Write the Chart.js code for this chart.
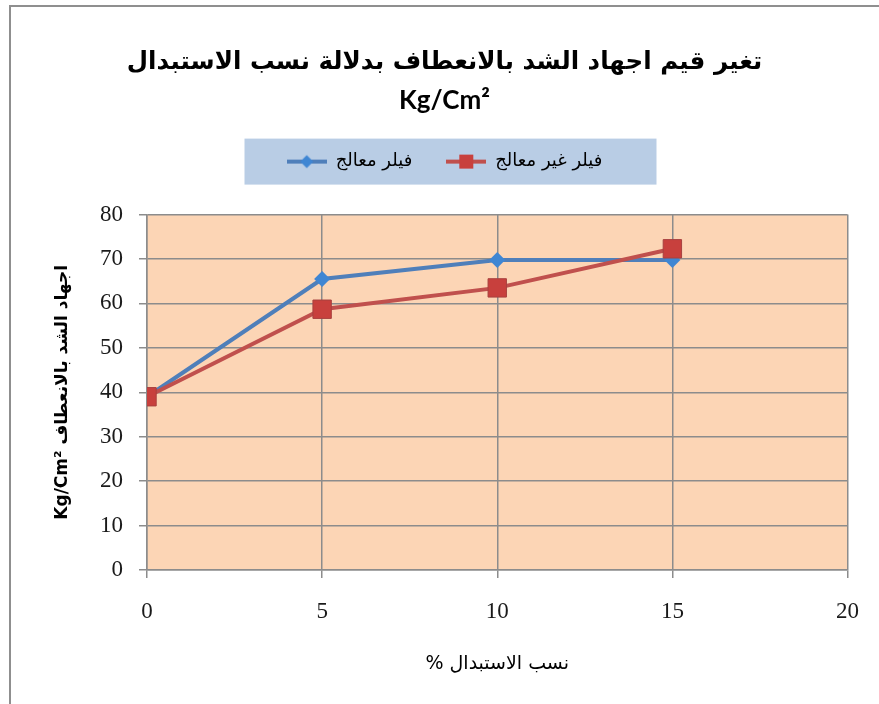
<!DOCTYPE html>
<html lang="ar">
<head>
<meta charset="utf-8">
<title>تغير قيم اجهاد الشد بالانعطاف</title>
<script src="https://cdn.jsdelivr.net/npm/chart.js@4.4.1/dist/chart.umd.min.js"></script>
<style>
  html, body { margin: 0; padding: 0; background: #ffffff; }
  #wrap { position: relative; width: 879px; height: 704px; }
  #cadre {
    position: absolute; left: 9px; top: 5px; right: -4px; bottom: -4px;
    border-left: 2px solid #8f8f8f; border-top: 2px solid #8f8f8f;
    pointer-events: none;
  }
</style>
</head>
<body>
<div id="wrap">
  <canvas id="graphe"></canvas>
  <div id="cadre"></div>
</div>
<script>
// ====================== DONNEES ======================
const titre = "تغير قيم اجهاد الشد بالانعطاف بدلالة نسب الاستبدال";
const sousTitre = "Kg/Cm²";
const titreX = "% نسب الاستبدال";
const titreY = "Kg/Cm² اجهاد الشد بالانعطاف";

const nomsSeries = ["فيلر معالج", "فيلر غير معالج"];
const tauxRemplacement = [0, 5, 10, 15];
const filerTraite = [39, 65.5, 69.8, 69.8];
const filerNonTraite = [39, 58.7, 63.5, 72.3];

const ticksX = [0, 5, 10, 15, 20];
const ticksY = [0, 10, 20, 30, 40, 50, 60, 70, 80];

const couleurs = {
  bleuLigne: "#4f7fba",
  bleuPoint: "#3f86d3",
  rougeLigne: "#c0504d",
  rougePoint: "#c8403d",
  fondTrace: "#fcd5b5",
  fondLegende: "#b9cde5",
  grille: "#8c8c8c",
};

// ====================== MARQUEURS LEGENDE ======================
function marqueurLegende(couleurLigne, couleurPoint, forme) {
  const c = document.createElement("canvas");
  c.width = 40;
  c.height = 16;
  const ctx = c.getContext("2d");
  ctx.strokeStyle = couleurLigne;
  ctx.lineWidth = 4;
  ctx.beginPath();
  ctx.moveTo(0, 8);
  ctx.lineTo(40, 8);
  ctx.stroke();
  ctx.fillStyle = couleurPoint;
  ctx.beginPath();
  if (forme === "losange") {
    ctx.moveTo(20, 1.5);
    ctx.lineTo(26.5, 8);
    ctx.lineTo(20, 14.5);
    ctx.lineTo(13.5, 8);
    ctx.closePath();
  } else {
    ctx.rect(13, 1, 14, 14);
  }
  ctx.fill();
  return c;
}

const marqueurs = [
  marqueurLegende(couleurs.bleuLigne, couleurs.bleuPoint, "losange"),
  marqueurLegende(couleurs.rougeLigne, couleurs.rougePoint, "carre"),
];

// ====================== FONDS + ESPACE SOUS LA LEGENDE ======================
const fondsPlugin = {
  id: "fonds",
  beforeDraw(chart) {
    const { ctx, chartArea, legend } = chart;
    ctx.save();
    ctx.fillStyle = couleurs.fondTrace;
    ctx.fillRect(chartArea.left, chartArea.top, chartArea.right - chartArea.left, chartArea.bottom - chartArea.top);

    if (legend && legend.legendHitBoxes && legend.legendHitBoxes.length) {
      const boxes = legend.legendHitBoxes;
      const gauche = Math.min(...boxes.map((b) => b.left));
      const droite = Math.max(...boxes.map((b) => b.left + b.width));
      const centre = (gauche + droite) / 2;
      const milieu = boxes[0].top + boxes[0].height / 2;
      ctx.fillStyle = couleurs.fondLegende;
      ctx.fillRect(centre - 200, milieu - 23, 412, 46);
    }
    ctx.restore();
  },
};

const espacePlugin = {
  id: "espace",
  beforeInit(chart) {
    Chart.layouts.addBox(chart, {
      position: "top",
      weight: 100,
      fullSize: true,
      options: {},
      top: 0, left: 0, right: 0, bottom: 0, width: 0, height: 0,
      update(maxWidth) {
        this.width = maxWidth;
        this.height = 34;
      },
      isHorizontal() { return true; },
      getPadding() { return { left: 0, right: 0, top: 0, bottom: 0 }; },
      draw() {},
    });
  },
};

// ====================== GRAPHIQUE ======================
new Chart(document.getElementById("graphe"), {
  type: "line",
  data: {
    datasets: [
      {
        label: nomsSeries[0],
        data: tauxRemplacement.map((x, i) => ({ x, y: filerTraite[i] })),
        borderColor: couleurs.bleuLigne,
        backgroundColor: couleurs.bleuPoint,
        borderWidth: 4,
        pointStyle: "rectRot",
        pointRadius: 8,
        pointBorderWidth: 0,
        pointBackgroundColor: couleurs.bleuPoint,
        tension: 0,
        order: 1,
      },
      {
        label: nomsSeries[1],
        data: tauxRemplacement.map((x, i) => ({ x, y: filerNonTraite[i] })),
        borderColor: couleurs.rougeLigne,
        backgroundColor: couleurs.rougePoint,
        borderWidth: 4,
        pointStyle: "rect",
        pointRadius: 13,
        pointBorderWidth: 1,
        pointBorderColor: "#a8413f",
        pointBackgroundColor: couleurs.rougePoint,
        tension: 0,
        order: 0,
      },
    ],
  },
  options: {
    responsive: true,
    maintainAspectRatio: false,
    animation: false,
    events: [],
    layout: { padding: { top: 10, left: 40, right: 30, bottom: 18 } },
    scales: {
      x: {
        type: "linear",
        min: 0,
        max: 20,
        afterBuildTicks: (scale) => {
          scale.ticks = ticksX.map((v) => ({ value: v }));
        },
        afterFit: (scale) => {
          scale.height = 704 - 570 - 18;
        },
        grid: { color: couleurs.grille, lineWidth: 1.5, tickLength: 8 },
        border: { color: couleurs.grille, width: 1.5 },
        ticks: {
          padding: 20,
          color: "#1a1a1a",
          font: { family: "'Liberation Serif', serif", size: 23 },
        },
        title: {
          display: true,
          text: titreX,
          color: "#000000",
          font: { family: "'DejaVu Sans', sans-serif", size: 19 },
          padding: { top: 0, bottom: 11 },
        },
      },
      y: {
        min: 0,
        max: 80,
        afterBuildTicks: (scale) => {
          scale.ticks = ticksY.map((v) => ({ value: v }));
        },
        afterFit: (scale) => {
          scale.width = 147 - 40;
        },
        grid: { color: couleurs.grille, lineWidth: 1.5, tickLength: 8 },
        border: { color: couleurs.grille, width: 1.5 },
        ticks: {
          padding: 16,
          color: "#1a1a1a",
          font: { family: "'Liberation Serif', serif", size: 23 },
        },
        title: {
          display: true,
          text: titreY,
          color: "#000000",
          font: { family: "'DejaVu Sans', sans-serif", size: 17, weight: "bold" },
          padding: { top: 12, bottom: 0 },
        },
      },
    },
    plugins: {
      title: {
        display: true,
        text: titre,
        color: "#000000",
        font: { family: "'DejaVu Sans', sans-serif", size: 24.5, weight: "bold", lineHeight: 1.2 },
        padding: { top: 38, bottom: 0 },
      },
      subtitle: {
        display: true,
        text: sousTitre,
        color: "#000000",
        font: { family: "Lato, sans-serif", size: 26, weight: "bold", lineHeight: 1.2 },
        padding: { top: 8, bottom: 2 },
      },
      legend: {
        display: true,
        position: "top",
        labels: {
          usePointStyle: true,
          pointStyleWidth: 40,
          padding: 34,
          color: "#000000",
          font: { family: "'DejaVu Sans', sans-serif", size: 18 },
          generateLabels: (chart) =>
            chart.data.datasets.map((ds, i) => ({
              text: ds.label,
              pointStyle: marqueurs[i],
              fillStyle: ds.borderColor,
              strokeStyle: ds.borderColor,
              lineWidth: 0,
              hidden: false,
              datasetIndex: i,
            })),
        },
      },
      tooltip: { enabled: false },
    },
  },
  plugins: [fondsPlugin, espacePlugin],
});
</script>
</body>
</html>
